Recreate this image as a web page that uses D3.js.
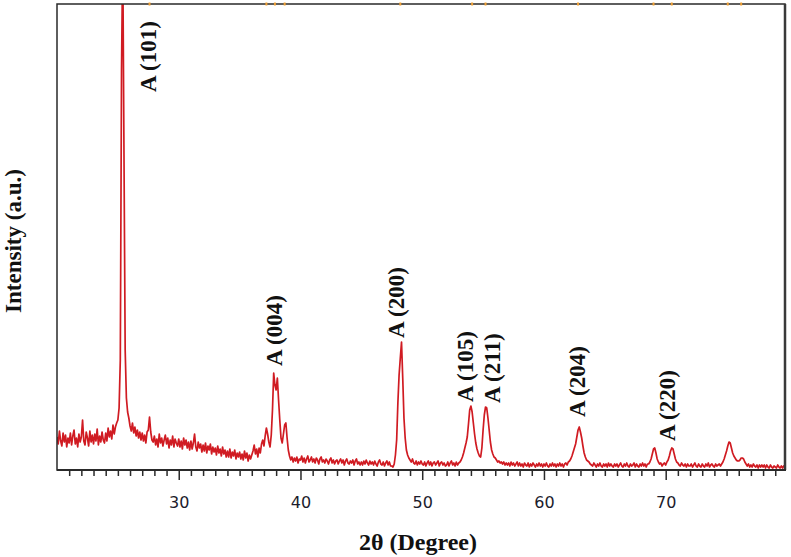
<!DOCTYPE html>
<html lang="en">
  <head>
    <meta charset="utf-8">
    <title>XRD pattern</title>
    <script src="https://d3js.org/d3.v7.js"></script>
    <style>
      body { margin: 0; background: white; }
    </style>
  </head>

  <body>
    <svg></svg>

  <script>

// Data: intensity (a.u.) every 0.1 degree from 2θ = 20.0 to 79.8

  const thetaStart = 20;
  const thetaStep = 0.1;

  const intensity = [
    33,26,39,29,24,37,28,35,23,32,   // 20
    27,37,25,34,40,26,32,23,36,28,   // 21
    33,50,29,25,38,32,24,39,28,35,   // 22
    26,36,29,41,25,34,28,38,30,27,   // 23
    37,29,42,33,39,31,45,36,43,47,   // 24
    50,62,110,400,520,320,120,72,58,52, // 25
    44,39,47,37,43,34,40,32,38,30,   // 26
    37,29,35,27,38,40,53,38,30,28,   // 27
    34,25,31,23,36,27,32,24,30,35,   // 28
    26,32,22,30,25,34,23,31,27,24,   // 29
    31,23,29,21,32,25,30,22,28,20,   // 30
    29,21,27,36,23,19,28,22,26,18,   // 31
    25,19,27,17,24,20,26,16,23,18,   // 32
    22,15,24,17,21,14,23,16,20,13,   // 33
    19,13,21,12,18,14,20,11,17,13,   // 34
    18,11,16,10,19,12,17,9,15,11,    // 35
    15,19,25,16,21,13,22,17,26,30,   // 36
    24,34,42,36,28,23,35,60,97,85,   // 37
    80,92,70,50,32,27,36,45,47,32,   // 38
    20,14,10,13,8,12,9,13,7,11,      // 39
    10,14,8,12,7,11,14,8,10,13,      // 40
    8,11,7,12,10,6,11,13,8,10,       // 41
    7,11,9,6,10,12,7,10,6,9,         // 42
    10,6,9,11,7,10,5,9,11,7,         // 43
    6,9,7,10,5,9,11,6,8,5,           // 44
    8,5,9,6,10,7,5,9,6,8,            // 45
    5,9,6,4,8,10,6,5,8,4,            // 46
    7,9,5,8,4,4,3,6,15,30,           // 47
    67,95,112,128,92,52,32,20,15,12, // 48
    10,8,11,7,6,9,5,8,6,9,           // 49
    6,5,8,4,7,9,5,8,4,7,             // 50
    8,5,7,9,4,7,8,5,7,4,             // 51
    5,8,4,7,9,5,7,4,8,5,             // 52
    7,8,10,13,17,22,27,33,46,60,     // 53
    64,58,47,36,27,21,17,14,13,22,   // 54
    40,55,63,62,52,40,28,20,16,13,   // 55
    12,10,8,9,7,8,6,8,5,7,           // 56
    5,7,4,8,5,7,4,6,8,4,             // 57
    7,4,6,3,7,5,4,7,3,6,             // 58
    4,7,5,3,6,4,7,4,6,3,             // 59
    6,4,7,4,3,6,4,7,4,6,             // 60
    3,6,4,7,4,6,3,6,7,5,             // 61
    8,9,11,14,18,22,26,33,40,43,     // 62
    38,32,24,17,13,10,9,8,6,5,       // 63
    4,7,5,3,6,4,7,4,3,6,             // 64
    4,6,3,7,4,6,4,3,6,4,             // 65
    6,3,5,7,4,3,6,4,7,4,             // 66
    3,6,4,5,7,3,6,4,3,6,             // 67
    4,7,4,6,3,6,6,8,11,16,           // 68
    21,22,17,11,8,6,7,4,6,7,         // 69
    5,8,10,14,19,22,21,16,11,8,      // 70
    7,5,4,7,5,4,6,3,6,4,             // 71
    4,6,3,5,7,4,3,6,4,3,             // 72
    6,4,3,6,4,7,3,5,6,4,             // 73
    3,6,4,5,6,4,6,8,11,15,           // 74
    19,24,28,27,22,17,14,12,10,9,    // 75
    9,10,12,12,11,8,6,4,6,3,         // 76
    5,3,6,4,3,5,2,5,3,5,             // 77
    3,5,2,5,3,2,5,3,2,4,             // 78
    3,2,5,3,2,4,2,4,3                // 79
  ];

  const twoTheta = intensity.map((d, i) => +(thetaStart + i * thetaStep).toFixed(1));

// peak labels (anatase planes) and where they sit

  const peakLabels = ["A (101)", "A (004)", "A (200)", "A (105)", "A (211)", "A (204)", "A (220)"];
  const labelTheta = [28.1, 38.5, 48.5, 54.2, 56.4, 63.4, 70.8];
  const labelIntensity = [378, 104, 132, 68, 67, 53, 29];

// small marks on the top frame at the peak positions

  const topMarks = [27.6, 37.2, 37.9, 38.7, 48.2, 54.1, 55.2, 62.8, 69.0, 70.5, 75.1, 76.2];

  const majorTicks = [30, 40, 50, 60, 70];

// Create svg

  const w = 791;
  const h = 557;
  const plot = {left: 57, right: 785, top: 4, bottom: 470};

  const svg = d3.select("svg")
      .attr("width", w)
      .attr("height", h);

  svg.append("rect")
      .attr("width", w)
      .attr("height", h)
      .attr("fill", "white");

  const xScale = d3.scaleLinear()
      .domain([20, 79.8])
      .range([plot.left, plot.right]);

  const yScale = d3.scaleLinear()
      .domain([0, 466])
      .range([plot.bottom, plot.top]);

  svg.append("clipPath")
      .attr("id", "clip")
    .append("rect")
      .attr("x", plot.left)
      .attr("y", plot.top)
      .attr("width", plot.right - plot.left)
      .attr("height", plot.bottom - plot.top);

// the pattern

  const line = d3.line()
      .x((d, i) => xScale(twoTheta[i]))
      .y(d => yScale(d));

  svg.append("path")
      .datum(intensity)
      .attr("clip-path", "url(#clip)")
      .attr("d", line)
      .attr("fill", "none")
      .attr("stroke", "#d01b22")
      .attr("stroke-width", 1.7)
      .attr("stroke-linejoin", "round");

// frame

  svg.append("rect")
      .attr("x", plot.left)
      .attr("y", plot.top)
      .attr("width", plot.right - plot.left)
      .attr("height", plot.bottom - plot.top)
      .attr("fill", "none")
      .attr("stroke", "#2a2a2a")
      .attr("stroke-width", 1.5);

  svg.append("line")
      .attr("x1", plot.right)
      .attr("x2", plot.right)
      .attr("y1", plot.top)
      .attr("y2", plot.bottom)
      .attr("stroke", "#3a3a3a")
      .attr("stroke-width", 2.5);

  svg.selectAll(".topmark")
    .data(topMarks)
    .enter().append("rect")
      .attr("class", "topmark")
      .attr("x", d => xScale(d) - 1)
      .attr("y", plot.top - 1.5)
      .attr("width", 2)
      .attr("height", 3)
      .attr("fill", "#f0a033");

// axes

  const xAxis = d3.axisBottom(xScale)
      .tickValues(majorTicks)
      .tickSize(10)
      .tickPadding(17)
      .tickFormat(d3.format("d"));

  const xMinor = d3.axisBottom(xScale)
      .tickValues(d3.range(21, 80).filter(d => d % 10 !== 0))
      .tickSize(6)
      .tickFormat("");

  const gx = svg.append("g")
      .attr("transform", `translate(0, ${plot.bottom})`)
      .call(xAxis);

  const gm = svg.append("g")
      .attr("transform", `translate(0, ${plot.bottom})`)
      .call(xMinor);

  [gx, gm].forEach(g => {
    g.select(".domain").remove();
    g.selectAll("line").attr("stroke", "#2a2a2a").attr("stroke-width", 1.5);
  });

  gx.selectAll("text")
      .attr("font-family", "DejaVu Sans, sans-serif")
      .attr("font-size", 16)
      .attr("fill", "#1c1c2c");

  svg.append("line")
      .attr("x1", plot.left)
      .attr("x2", plot.right + 1)
      .attr("y1", plot.bottom)
      .attr("y2", plot.bottom)
      .attr("stroke", "#2a2a2a")
      .attr("stroke-width", 2);

// axis titles

  svg.append("text")
      .attr("x", 418)
      .attr("y", 550)
      .attr("text-anchor", "middle")
      .attr("font-family", "Liberation Serif, Times New Roman, serif")
      .attr("font-weight", "bold")
      .attr("font-size", 24)
      .attr("fill", "#111")
      .text("2θ (Degree)");

  svg.append("text")
      .attr("transform", "translate(21, 241) rotate(-90)")
      .attr("text-anchor", "middle")
      .attr("font-family", "Liberation Serif, Times New Roman, serif")
      .attr("font-weight", "bold")
      .attr("font-size", 23)
      .attr("fill", "#111")
      .text("Intensity (a.u.)");

// peak labels

  svg.selectAll(".peak")
    .data(peakLabels)
    .enter().append("text")
      .attr("class", "peak")
      .attr("transform", (d, i) => `translate(${xScale(labelTheta[i])}, ${yScale(labelIntensity[i])}) rotate(-90)`)
      .attr("font-family", "Liberation Serif, Times New Roman, serif")
      .attr("font-weight", "bold")
      .attr("font-size", 23)
      .attr("fill", "#111")
      .text(d => d);

    </script>

  </body>

</html>
